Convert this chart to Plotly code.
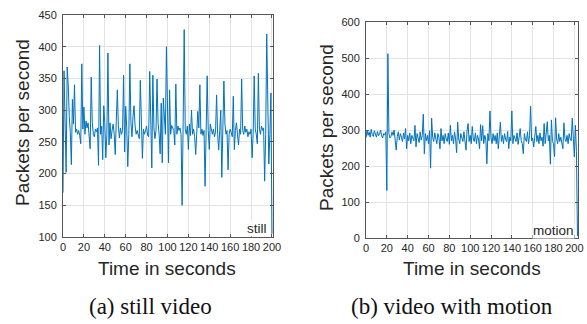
import plotly.graph_objects as go

# ---- data (packets per second, one sample per second) ----
still_pps = [
    170, 362, 280, 202, 368, 340, 290, 265, 214, 317, 278, 340, 265, 270, 262, 268, 260, 247, 373, 270,
    305, 262, 283, 272, 280, 262, 239, 352, 282, 262, 258, 270, 266, 272, 213, 402, 262, 275, 222, 307,
    280, 225, 262, 390, 245, 280, 255, 268, 278, 262, 230, 282, 332, 275, 256, 272, 262, 268, 355, 234,
    306, 272, 211, 262, 373, 280, 258, 290, 307, 275, 262, 268, 258, 255, 347, 262, 224, 270, 262, 268,
    275, 260, 258, 361, 262, 209, 355, 272, 255, 268, 349, 280, 262, 231, 311, 217, 319, 275, 262, 400,
    265, 217, 332, 262, 276, 270, 268, 245, 341, 262, 275, 268, 272, 262, 150, 280, 427, 270, 262, 275,
    238, 278, 260, 300, 262, 270, 258, 230, 265, 298, 272, 340, 262, 270, 260, 268, 180, 262, 354, 268,
    238, 278, 268, 262, 270, 258, 265, 324, 262, 237, 268, 300, 194, 262, 346, 278, 262, 268, 206, 262,
    270, 265, 258, 322, 238, 268, 280, 262, 245, 270, 262, 349, 268, 262, 275, 265, 270, 258, 266, 262,
    270, 225, 262, 354, 270, 262, 247, 358, 270, 262, 275, 268, 272, 188, 262, 420, 268, 215, 262, 327,
    105,
]
still_t = list(range(len(still_pps)))

motion_pps = [
    278, 300, 285, 295, 280, 302, 288, 282, 298, 285, 280, 296, 284, 288, 300, 284, 278, 290, 286, 295,
    132, 512, 290, 278, 282, 295, 285, 300, 276, 244, 282, 295, 272, 290, 280, 268, 292, 275, 304, 248,
    285, 270, 292, 262, 285, 278, 270, 313, 253, 290, 278, 265, 295, 272, 285, 344, 234, 290, 270, 285,
    262, 298, 194, 333, 280, 268, 292, 275, 262, 290, 280, 248, 304, 270, 285, 262, 290, 275, 268, 292,
    260, 313, 270, 285, 262, 295, 275, 237, 322, 275, 262, 290, 280, 268, 295, 270, 244, 298, 318, 268,
    285, 262, 310, 275, 268, 292, 262, 285, 275, 248, 315, 270, 312, 262, 285, 275, 206, 290, 270, 353,
    278, 262, 290, 270, 285, 262, 292, 248, 280, 322, 268, 285, 262, 290, 275, 268, 296, 248, 280, 270,
    353, 262, 285, 275, 268, 292, 260, 280, 304, 270, 262, 234, 290, 275, 268, 295, 262, 285, 366, 270,
    278, 253, 290, 310, 268, 285, 262, 292, 270, 280, 255, 318, 262, 290, 323, 270, 285, 205, 328, 268,
    262, 226, 334, 275, 262, 290, 268, 280, 262, 248, 320, 275, 268, 285, 262, 290, 275, 270, 333, 262,
    225, 313, 240, 5,
]
motion_t = list(range(len(motion_pps)))

x_ticks = [0, 20, 40, 60, 80, 100, 120, 140, 160, 180, 200]
still_y_ticks = [100, 150, 200, 250, 300, 350, 400, 450]
motion_y_ticks = [0, 100, 200, 300, 400, 500, 600]

x_title = "Time in seconds"
y_title = "Packets per second"
captions = ["(a) still video", "(b) video with motion"]
labels = ["still", "motion"]

W, H = 587, 324
LINE = "#0072BD"
DARK = "#262626"
GRID = "#e3e3e3"

fig = go.Figure()
fig.add_trace(go.Scatter(x=still_t, y=still_pps, mode="lines",
                         line=dict(color=LINE, width=1), xaxis="x", yaxis="y",
                         showlegend=False))
fig.add_trace(go.Scatter(x=motion_t, y=motion_pps, mode="lines",
                         line=dict(color=LINE, width=1), xaxis="x2", yaxis="y2",
                         showlegend=False))


def px_x(p):
    return p / W


def px_y(p):
    return 1 - p / H


tickfont = dict(family="Liberation Sans, Arial, sans-serif", size=11, color=DARK)
titlefont = dict(family="Liberation Sans, Arial, sans-serif", size=19, color=DARK)

common_axis = dict(
    showline=True, linecolor="#555555", linewidth=1, mirror="allticks",
    ticks="inside", ticklen=3, tickcolor="#555555",
    showgrid=True, gridcolor=GRID, gridwidth=1,
    zeroline=False, tickfont=tickfont, automargin=False,
)

fig.update_layout(
    width=W, height=H,
    margin=dict(l=0, r=0, t=0, b=0, autoexpand=False),
    paper_bgcolor="white", plot_bgcolor="white",
    xaxis=dict(domain=[px_x(63), px_x(273)], range=[0, 201], tickvals=x_ticks,
               anchor="y", **common_axis),
    yaxis=dict(domain=[px_y(237), px_y(15)], range=[100, 450], tickvals=still_y_ticks,
               anchor="x", ticklabelstandoff=3, **common_axis),
    xaxis2=dict(domain=[px_x(366), px_x(578)], range=[0, 203.5], tickvals=x_ticks,
                anchor="y2", **common_axis),
    yaxis2=dict(domain=[px_y(238), px_y(22)], range=[0, 600], tickvals=motion_y_ticks,
                anchor="x2", ticklabelstandoff=3, **common_axis),
)

ann = []
# axis titles
ann.append(dict(text=x_title, x=px_x(167), y=px_y(268), xref="paper", yref="paper",
                showarrow=False, font=titlefont, xanchor="center", yanchor="middle"))
ann.append(dict(text=x_title, x=px_x(472), y=px_y(268), xref="paper", yref="paper",
                showarrow=False, font=titlefont, xanchor="center", yanchor="middle"))
ann.append(dict(text=y_title, x=px_x(22), y=px_y(123), xref="paper", yref="paper",
                showarrow=False, font=titlefont, textangle=-90,
                xanchor="center", yanchor="middle"))
ann.append(dict(text=y_title, x=px_x(326), y=px_y(128), xref="paper", yref="paper",
                showarrow=False, font=titlefont, textangle=-90,
                xanchor="center", yanchor="middle"))
# in-plot labels
lblfont = dict(family="Liberation Sans, Arial, sans-serif", size=13.5, color=DARK)
ann.append(dict(text=labels[0], x=px_x(268), y=px_y(228), xref="paper", yref="paper",
                showarrow=False, font=lblfont, xanchor="right", yanchor="middle",
                bgcolor="white", borderpad=0))
ann.append(dict(text=labels[1], x=px_x(575), y=px_y(230), xref="paper", yref="paper",
                showarrow=False, font=lblfont, xanchor="right", yanchor="middle",
                bgcolor="white", borderpad=0))
# captions
capfont = dict(family="Liberation Serif, Times New Roman, serif", size=23, color="#111111")
ann.append(dict(text=captions[0], x=px_x(150), y=px_y(306), xref="paper", yref="paper",
                showarrow=False, font=capfont, xanchor="center", yanchor="middle"))
ann.append(dict(text=captions[1], x=px_x(452), y=px_y(306), xref="paper", yref="paper",
                showarrow=False, font=capfont, xanchor="center", yanchor="middle"))
fig.update_layout(annotations=ann)

fig.write_html(
    "out.html",
    config={"displayModeBar": False},
    post_script="document.body.style.margin='0';document.body.style.padding='0';"
                "document.body.style.overflow='hidden';",
)
